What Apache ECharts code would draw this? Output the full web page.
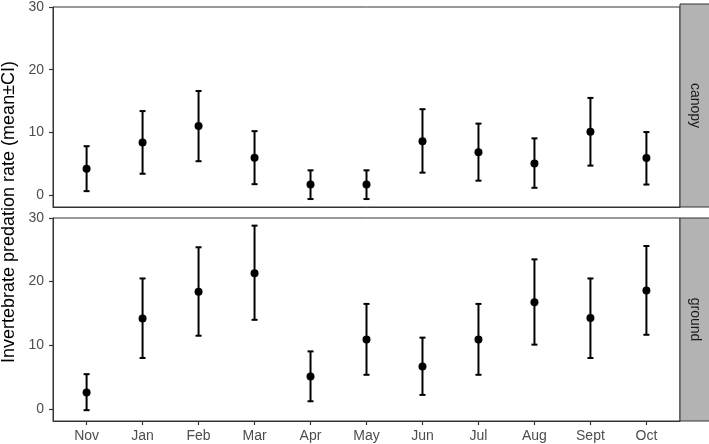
<!DOCTYPE html>
<html>
<head>
<meta charset="utf-8">
<script src="https://cdn.jsdelivr.net/npm/echarts@6/dist/echarts.min.js"></script>
<style>
html,body{margin:0;padding:0;background:#fff;}
#chart{width:709px;height:444px;}
</style>
</head>
<body>
<div id="chart"></div>
<script>
var months = ['Nov','Jan','Feb','Mar','Apr','May','Jun','Jul','Aug','Sept','Oct'];
var yTicks = [0, 10, 20, 30];
var panels = ['canopy', 'ground'];

var canopyMean  = [4.2, 8.4, 11.0, 5.95, 1.68, 1.68, 8.6, 6.85, 5.05, 10.1, 5.9];
var canopyLower = [0.63, 3.4, 5.4, 1.74, -0.63, -0.63, 3.58, 2.3, 1.16, 4.7, 1.68];
var canopyUpper = [7.8, 13.4, 16.6, 10.2, 3.95, 3.95, 13.7, 11.4, 9.05, 15.5, 10.05];

var groundMean  = [2.58, 14.2, 18.4, 21.3, 5.1, 10.9, 6.67, 10.9, 16.75, 14.3, 18.6];
var groundLower = [-0.2, 8.0, 11.5, 14.0, 1.2, 5.36, 2.2, 5.36, 10.1, 8.0, 11.65];
var groundUpper = [5.46, 20.5, 25.4, 28.8, 9.04, 16.5, 11.2, 16.5, 23.5, 20.5, 25.6];

var FONT = 'Liberation Sans, Arial, sans-serif';
var xIdx = months.map(function(m, i){ return i; });

function errData(mean, lo, hi){
  return months.map(function(m, i){ return [i, mean[i], lo[i], hi[i]]; });
}
function ptData(mean){
  return months.map(function(m, i){ return [i, mean[i]]; });
}

function errRender(params, api){
  var x = api.value(0);
  var lo = api.value(2), hi = api.value(3);
  var pHi = api.coord([x, hi]);
  var pLo = api.coord([x, lo]);
  var hw = 3;
  var st = {stroke: '#000', lineWidth: 2};
  return {
    type: 'group',
    children: [
      {type: 'line', shape: {x1: pHi[0], y1: pHi[1], x2: pLo[0], y2: pLo[1]}, style: st},
      {type: 'line', shape: {x1: pHi[0]-hw, y1: pHi[1], x2: pHi[0]+hw, y2: pHi[1]}, style: st},
      {type: 'line', shape: {x1: pLo[0]-hw, y1: pLo[1], x2: pLo[0]+hw, y2: pLo[1]}, style: st}
    ]
  };
}

var grids = [
  {left: 53, top: 4, width: 627, height: 203, show: true, borderColor: '#333', borderWidth: 1, backgroundColor: '#fff'},
  {left: 53, top: 218, width: 627, height: 203, show: true, borderColor: '#333', borderWidth: 1, backgroundColor: '#fff'}
];

function xAxisFor(gi, showLabels){
  return {
    type: 'value', gridIndex: gi, min: -0.6, max: 10.6, position: 'bottom',
    axisLine: {show: true, onZero: false, lineStyle: {color: '#333', width: 1}},
    splitLine: {show: false},
    axisTick: {show: showLabels, customValues: xIdx, length: 4, lineStyle: {color: '#333', width: 1.2}},
    axisLabel: {show: showLabels, customValues: xIdx, color: '#4d4d4d', fontSize: 14, fontFamily: FONT, margin: 8,
      formatter: function(v){ return months[Math.round(v)]; }}
  };
}
function yAxisFor(gi){
  return {
    type: 'value', gridIndex: gi, min: -1.9, max: 30, position: 'left',
    axisLine: {show: true, onZero: false, lineStyle: {color: '#333', width: 1}},
    splitLine: {show: false},
    axisTick: {show: true, customValues: yTicks, length: 4, lineStyle: {color: '#333', width: 1.2}},
    axisLabel: {customValues: yTicks, color: '#4d4d4d', fontSize: 14, fontFamily: FONT, margin: 9}
  };
}

var option = {
  animation: false,
  backgroundColor: '#fff',
  grid: grids,
  xAxis: [xAxisFor(0, false), xAxisFor(1, true)],
  yAxis: [yAxisFor(0), yAxisFor(1)],
  series: [
    {type: 'custom', xAxisIndex: 0, yAxisIndex: 0, renderItem: errRender, data: errData(canopyMean, canopyLower, canopyUpper), encode: {x: 0, y: [2, 3]}, z: 2},
    {type: 'scatter', xAxisIndex: 0, yAxisIndex: 0, data: ptData(canopyMean), symbolSize: 8, itemStyle: {color: '#000', opacity: 1}, z: 3},
    {type: 'custom', xAxisIndex: 1, yAxisIndex: 1, renderItem: errRender, data: errData(groundMean, groundLower, groundUpper), encode: {x: 0, y: [2, 3]}, z: 2},
    {type: 'scatter', xAxisIndex: 1, yAxisIndex: 1, data: ptData(groundMean), symbolSize: 8, itemStyle: {color: '#000', opacity: 1}, z: 3}
  ],
  graphic: [
    {type: 'rect', shape: {x: 680, y: 4, width: 30, height: 203}, style: {fill: '#b3b3b3', stroke: '#333', lineWidth: 1}},
    {type: 'rect', shape: {x: 680, y: 218, width: 30, height: 203}, style: {fill: '#b3b3b3', stroke: '#333', lineWidth: 1}},
    {type: 'text', x: 695, y: 105.5, rotation: -Math.PI/2, style: {text: panels[0], fill: '#1a1a1a', font: '14px ' + FONT, align: 'center', verticalAlign: 'middle'}},
    {type: 'text', x: 695, y: 319.5, rotation: -Math.PI/2, style: {text: panels[1], fill: '#1a1a1a', font: '14px ' + FONT, align: 'center', verticalAlign: 'middle'}},
    {type: 'text', x: 9, y: 212, rotation: Math.PI/2, style: {text: 'Invertebrate predation rate (mean±CI)', fill: '#000', font: '18px ' + FONT, align: 'center', verticalAlign: 'middle'}}
  ]
};

var chart = echarts.init(document.getElementById('chart'), null, {renderer: 'canvas'});
chart.setOption(option);
</script>
</body>
</html>
